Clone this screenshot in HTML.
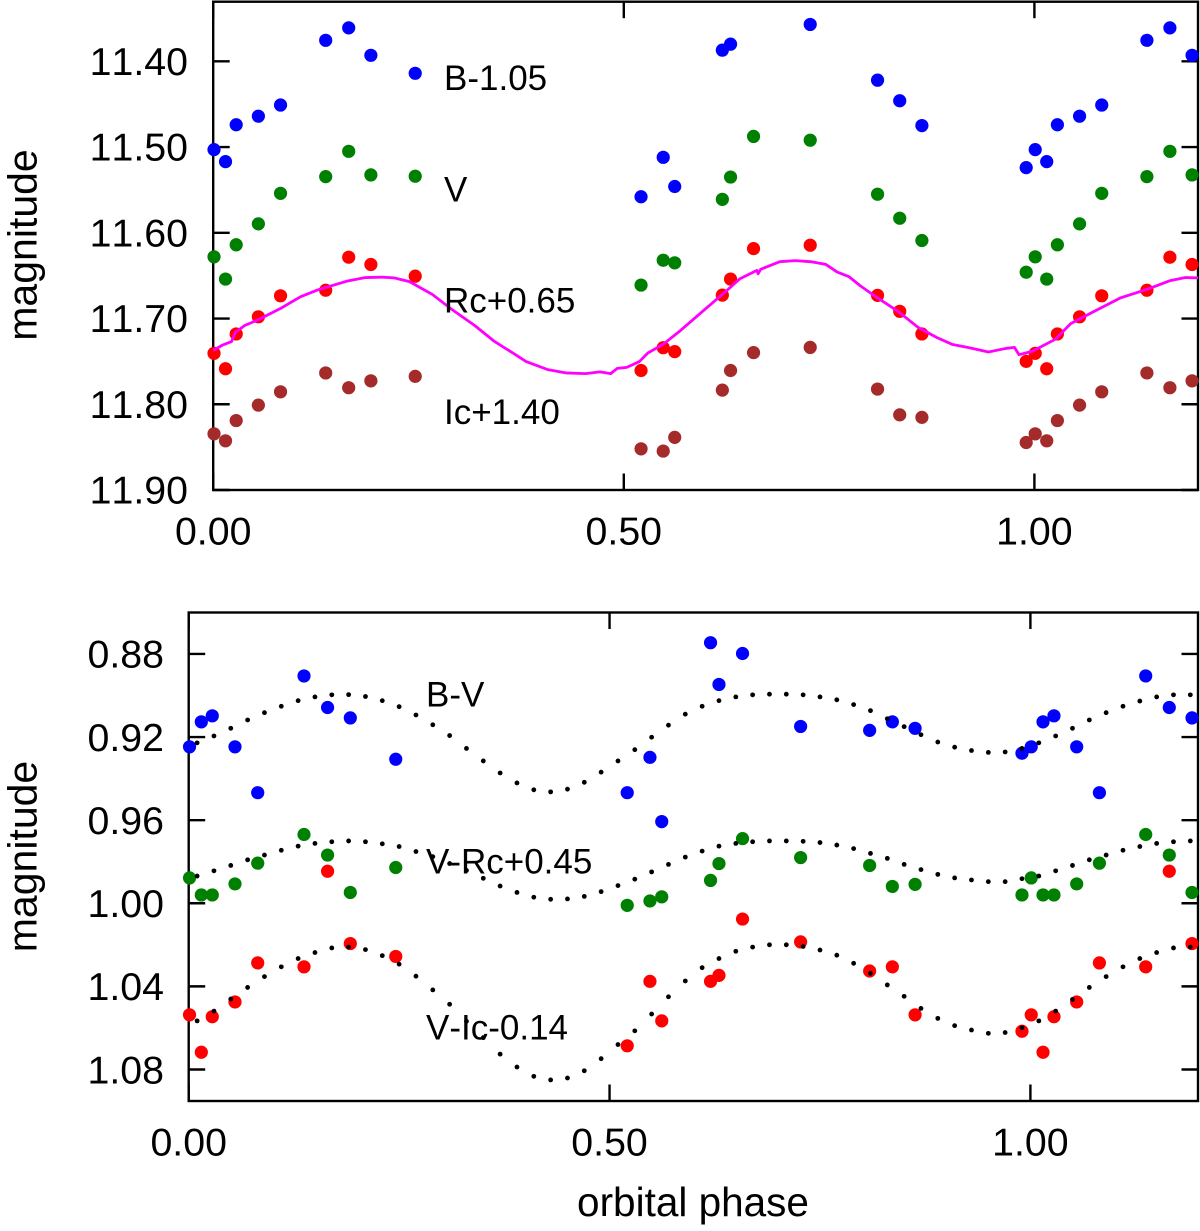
<!DOCTYPE html>
<html lang="en">
<head>
<meta charset="utf-8">
<title>Orbital phase light curves</title>
<style>
html,body{margin:0;padding:0;background:#fff;}
svg{display:block;font-family:"Liberation Sans",sans-serif;fill:#000;}
text{font-kerning:none;}
</style>
</head>
<body>
<svg id="fig" xmlns="http://www.w3.org/2000/svg" width="1200" height="1231" viewBox="0 0 1200 1231">
  <g id="top-axes"></g>
  <g id="bot-axes"></g>
  <g id="top-marks"></g>
  <g id="bot-marks"></g>
  <g font-size="35">
    <text x="444" y="90">B-1.05</text>
    <text x="444" y="201.5">V</text>
    <text x="444" y="312.5">Rc+0.65</text>
    <text x="444" y="424">Ic+1.40</text>
    <text font-size="41" text-anchor="middle" transform="translate(36.5,245) rotate(-90)">magnitude</text>
  </g>
  <g font-size="35">
    <text x="426" y="706.5">B-V</text>
    <text x="426" y="873.5">V-Rc+0.45</text>
    <text x="426" y="1039.5">V-Ic-0.14</text>
    <text font-size="41" text-anchor="middle" transform="translate(36.5,856.5) rotate(-90)">magnitude</text>
    <text font-size="40.5" text-anchor="middle" x="693" y="1216">orbital phase</text>
  </g>
</svg>
<script>
// ---------- data ----------
const phases = [0.001,0.015,0.028,0.055,0.082,0.137,0.165,0.192,0.246,0.521,0.548,0.562,0.620,0.630,0.658,0.727,0.809,0.836,0.863,0.990];
const magB = [11.503,11.517,11.474,11.464,11.451,11.3755,11.361,11.393,11.414,11.558,11.512,11.546,11.387,11.380,null,11.357,11.422,11.446,11.475,11.524];
const magV = [11.628,11.654,11.614,11.5896,11.554,11.5345,11.505,11.5325,11.534,11.661,11.632,11.635,11.561,11.535,11.4876,11.492,11.555,11.583,11.609,11.646];
const magRc = [11.7406,11.7586,11.718,11.698,11.6735,11.667,11.6285,11.637,11.6506,11.7606,11.734,11.7386,11.6727,11.654,11.6185,11.6145,11.673,11.6916,11.718,11.750];
const magIc = [11.8345,11.8426,11.819,11.801,11.7855,11.7635,11.7807,11.7727,11.7675,11.852,11.8546,11.8386,11.7835,11.7606,11.7398,11.7337,11.7823,11.8124,11.8153,11.8446];

const curvePhase = [0.000,0.0107,0.0223,0.027,0.0386,0.0554,0.0824,0.1062,0.1271,0.1621,0.1855,0.2064,0.2204,0.2390,0.2669,0.2903,0.3182,0.3416,0.3648,0.3811,0.4068,0.4301,0.4534,0.4710,0.4840,0.4920,0.5036,0.5190,0.5293,0.5479,0.5689,0.6015,0.6248,0.6411,0.6621,0.6635,0.6667,0.6900,0.7087,0.7273,0.7460,0.7599,0.7739,0.7879,0.8089,0.8345,0.8578,0.8811,0.8997,0.9207,0.9440,0.9650,0.9757,0.9813,0.9976,1.0256,1.0442,1.0722,1.1048,1.1374,1.1654,1.1840,1.1994];
const curveMag = [11.7373,11.7313,11.7269,11.7161,11.7080,11.7012,11.6880,11.6747,11.6667,11.6566,11.6522,11.6518,11.6526,11.6570,11.6719,11.6892,11.7080,11.7261,11.7402,11.7502,11.7594,11.7635,11.7643,11.7622,11.7643,11.7582,11.7570,11.7502,11.7402,11.7301,11.7141,11.6871,11.6679,11.6538,11.6438,11.6478,11.6426,11.6337,11.6325,11.6337,11.6369,11.6458,11.6510,11.6618,11.6759,11.6920,11.7100,11.7221,11.7301,11.7341,11.7390,11.7349,11.7337,11.7422,11.7382,11.7241,11.7060,11.6920,11.6759,11.6659,11.6558,11.6522,11.6526];

const colBV = [0.9247,0.9127,0.9098,0.9247,0.9468,0.8906,0.9058,0.9108,0.9307,0.9468,0.9298,0.9607,0.8746,0.8947,0.8798,0.9149,0.9168,0.9127,0.9158,0.9278];
const colVR = [0.9878,0.9960,0.9960,0.9907,0.9807,0.9669,0.9768,0.9948,0.9828,1.0010,0.9989,0.9969,0.9890,0.9809,0.9689,0.9780,0.9818,0.9919,0.9909,0.9960];
const colVI = [1.0537,1.0717,1.0546,1.0475,1.0287,1.0306,0.9846,1.0194,1.0256,1.0686,1.0376,1.0566,1.0376,1.0347,1.0076,1.0186,1.0326,1.0306,1.0537,1.0616];

const modelPhase = [0.01,0.03,0.05,0.07,0.09,0.11,0.13,0.15,0.17,0.19,0.21,0.23,0.25,0.27,0.29,0.31,0.33,0.35,0.37,0.39,0.41,0.43,0.45,0.47,0.49,0.51,0.53,0.55,0.57,0.59,0.61,0.63,0.65,0.67,0.69,0.71,0.73,0.75,0.77,0.79,0.81,0.83,0.85,0.87,0.89,0.91,0.93,0.95,0.97,0.99,1.01,1.03,1.05,1.07,1.09,1.11,1.13,1.15,1.17,1.19];
const modelBV = [0.9228,0.9195,0.9158,0.9118,0.9083,0.9052,0.9025,0.9007,0.8997,0.8996,0.9005,0.9025,0.9054,0.9094,0.9141,0.9193,0.9255,0.9315,0.9373,0.9421,0.9454,0.9464,0.9451,0.9418,0.9369,0.9315,0.9261,0.9201,0.9143,0.9090,0.9052,0.9025,0.9007,0.8997,0.8994,0.8994,0.8997,0.9007,0.9021,0.9044,0.9073,0.9112,0.9150,0.9189,0.9224,0.9249,0.9265,0.9274,0.9272,0.9255,0.9228,0.9195,0.9158,0.9118,0.9083,0.9052,0.9027,0.9007,0.8997,0.8997];
const modelVR = [0.9869,0.9844,0.9818,0.9791,0.9768,0.9745,0.9725,0.9712,0.9704,0.9700,0.9704,0.9714,0.9727,0.9751,0.9776,0.9809,0.9842,0.9880,0.9917,0.9948,0.9971,0.9981,0.9979,0.9967,0.9944,0.9915,0.9884,0.9849,0.9813,0.9778,0.9749,0.9725,0.9712,0.9704,0.9700,0.9700,0.9702,0.9708,0.9720,0.9737,0.9760,0.9784,0.9813,0.9838,0.9861,0.9878,0.9888,0.9896,0.9896,0.9882,0.9869,0.9844,0.9818,0.9791,0.9768,0.9745,0.9727,0.9712,0.9704,0.9700];
const modelVI = [1.0566,1.0519,1.0461,1.0405,1.0353,1.0306,1.0266,1.0237,1.0215,1.0211,1.0223,1.0252,1.0293,1.0351,1.0417,1.0486,1.0568,1.0647,1.0726,1.0788,1.0833,1.0850,1.0841,1.0806,1.0748,1.0680,1.0614,1.0533,1.0450,1.0374,1.0310,1.0266,1.0231,1.0211,1.0200,1.0200,1.0208,1.0225,1.0250,1.0289,1.0337,1.0393,1.0448,1.0506,1.0554,1.0589,1.0610,1.0626,1.0622,1.0599,1.0566,1.0519,1.0463,1.0405,1.0353,1.0306,1.0266,1.0237,1.0215,1.0211];

const xTicks = [0, 0.5, 1.0];
const xTickLabels = ["0.00", "0.50", "1.00"];
const topYTicks = [11.4, 11.5, 11.6, 11.7, 11.8, 11.9];
const topYTickLabels = ["11.40", "11.50", "11.60", "11.70", "11.80", "11.90"];
const botYTicks = [0.88, 0.92, 0.96, 1.00, 1.04, 1.08];
const botYTickLabels = ["0.88", "0.92", "0.96", "1.00", "1.04", "1.08"];

// ---------- axis functions ----------
const NS = "http://www.w3.org/2000/svg";
const topPanel = {left:213.2, right:1198, top:1.7, bottom:490, labelRight:188, xBase:544.3, yOff:13.7};
const botPanel = {left:188.7, right:1198, top:612.5, bottom:1101, labelRight:164, xBase:1155.5, yOff:13.8};
const topX = p => 213.2 + p * 821.2;
const topY = m => 61.3 + (m - 11.4) * 857.4;
const botX = p => 188.7 + p * 841.7;
const botY = m => 653.9 + (m - 0.88) * 2078;

function line(parent, x1, y1, x2, y2, name) {
  const el = document.createElementNS(NS, "line");
  el.setAttribute("x1", x1);
  el.setAttribute("y1", y1);
  el.setAttribute("x2", x2);
  el.setAttribute("y2", y2);
  el.setAttribute("stroke", "#000");
  el.setAttribute("stroke-width", "2.4");
  
  
  parent.appendChild(el);
}
function label(parent, x, y, anchor, txt, name) {
  const el = document.createElementNS(NS, "text");
  el.setAttribute("x", x);
  el.setAttribute("y", y);
  el.setAttribute("text-anchor", anchor);
  el.setAttribute("font-size", "39.3");
  el.textContent = txt;
  
  
  parent.appendChild(el);
}
function dot(parent, x, y, r, fill, name) {
  const el = document.createElementNS(NS, "circle");
  el.setAttribute("cx", x.toFixed(2));
  el.setAttribute("cy", y.toFixed(2));
  el.setAttribute("r", r);
  el.setAttribute("fill", fill);
  
  
  parent.appendChild(el);
}
function drawAxes(parent, P, sx, sy, yTicks, yLabels) {
  const rect = document.createElementNS(NS, "rect");
  rect.setAttribute("x", P.left);
  rect.setAttribute("y", P.top);
  rect.setAttribute("width", P.right - P.left);
  rect.setAttribute("height", P.bottom - P.top);
  rect.setAttribute("fill", "none");
  rect.setAttribute("stroke", "#000");
  rect.setAttribute("stroke-width", "2.4");
  
  
  parent.appendChild(rect);
  yTicks.forEach((v, i) => {
    const y = sy(v);
    line(parent, P.left, y, P.left + 16.5, y, "y-tick-left");
    line(parent, P.right, y, P.right - 16.5, y, "y-tick-right");
    label(parent, P.labelRight, y + P.yOff, "end", yLabels[i], "y-tick-label");
  });
  xTicks.forEach((v, i) => {
    const x = sx(v);
    line(parent, x, P.bottom, x, P.bottom - 16.5, "x-tick-bottom");
    line(parent, x, P.top, x, P.top + 16.5, "x-tick-top");
    label(parent, x, P.xBase, "middle", xTickLabels[i], "x-tick-label");
  });
}
function drawSeries(parent, sx, sy, values, color, name) {
  [0, 1].forEach(shift => {
    phases.forEach((p, i) => {
      const ph = p + shift;
      if (values[i] === null || ph > 1.2) return;
      dot(parent, sx(ph), sy(values[i]), 6.6, color, name);
    });
  });
}
function drawModel(parent, values, name) {
  modelPhase.forEach((p, i) => {
    dot(parent, botX(p), botY(values[i]), 2.4, "#000", name);
  });
}

// ---------- render ----------
drawAxes(document.getElementById("top-axes"), topPanel, topX, topY, topYTicks, topYTickLabels);
drawAxes(document.getElementById("bot-axes"), botPanel, botX, botY, botYTicks, botYTickLabels);

const topMarks = document.getElementById("top-marks");
drawSeries(topMarks, topX, topY, magB, "#0000ff", "b-band-point");
drawSeries(topMarks, topX, topY, magV, "#008000", "v-band-point");
drawSeries(topMarks, topX, topY, magRc, "#ff0000", "rc-band-point");
drawSeries(topMarks, topX, topY, magIc, "#a52a2a", "ic-band-point");

const curve = document.createElementNS(NS, "polyline");
curve.setAttribute("points", curvePhase.map((p, i) => topX(p).toFixed(2) + "," + topY(curveMag[i]).toFixed(2)).join(" "));
curve.setAttribute("fill", "none");
curve.setAttribute("stroke", "#ff00ff");
curve.setAttribute("stroke-width", "2.8");
curve.setAttribute("stroke-linejoin", "round");


topMarks.appendChild(curve);

const botMarks = document.getElementById("bot-marks");
drawSeries(botMarks, botX, botY, colBV, "#0000ff", "b-v-point");
drawSeries(botMarks, botX, botY, colVR, "#008000", "v-rc-point");
drawSeries(botMarks, botX, botY, colVI, "#ff0000", "v-ic-point");
drawModel(botMarks, modelBV, "b-v-model-dot");
drawModel(botMarks, modelVR, "v-rc-model-dot");
drawModel(botMarks, modelVI, "v-ic-model-dot");
</script>
</body>
</html>
